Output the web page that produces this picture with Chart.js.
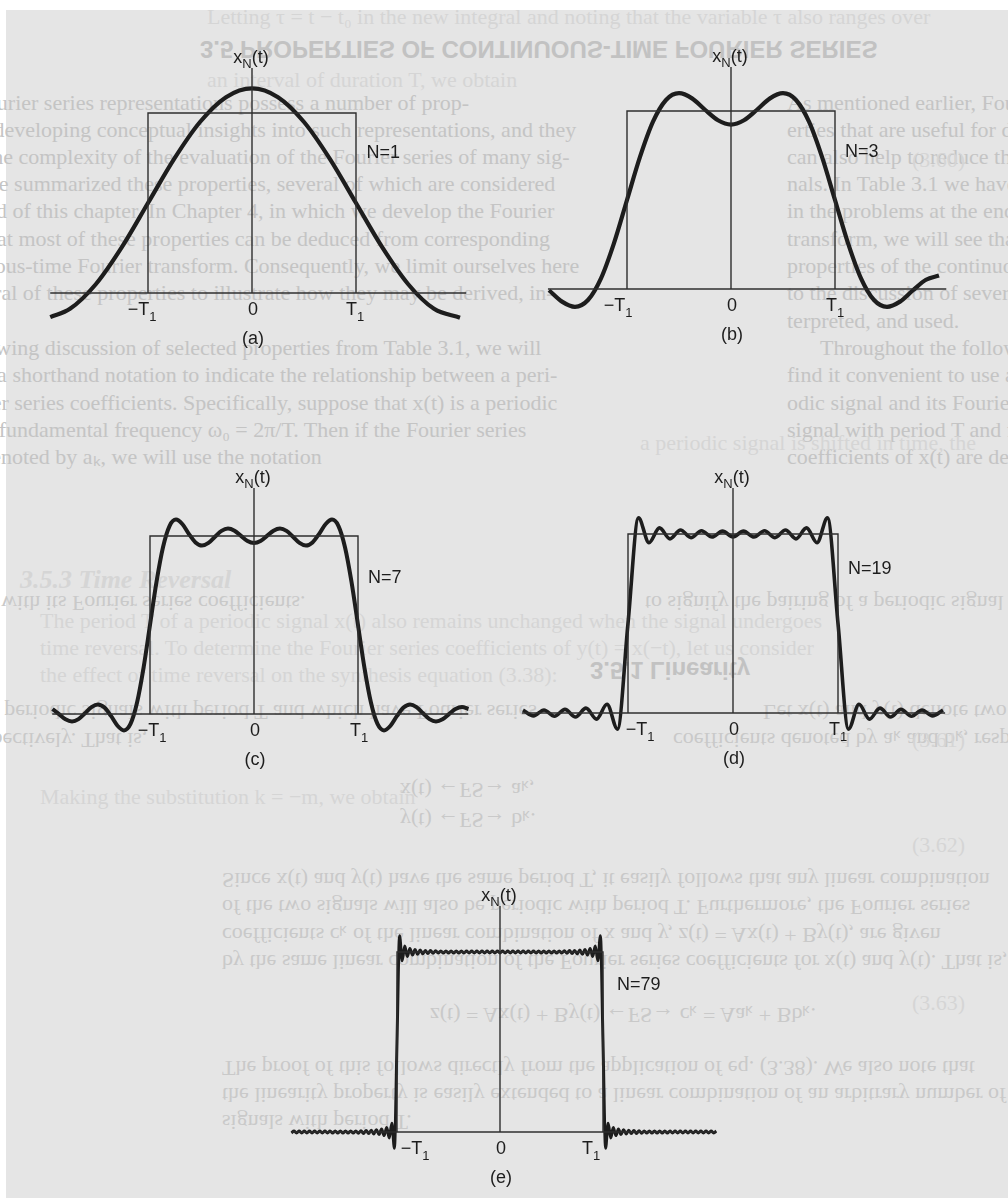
<!DOCTYPE html>
<html>
<head>
<meta charset="utf-8">
<script src="https://cdn.jsdelivr.net/npm/chart.js@4.4.1/dist/chart.umd.min.js"></script>
<style>
  html, body { margin: 0; padding: 0; background: #fff; }
  #page { position: relative; width: 1008px; height: 1198px; overflow: hidden; background: #fff; }
  #paper { position: absolute; left: 6px; top: 10px; right: 0; bottom: 0; background: #e5e5e5; }
  .bt { position: absolute; white-space: nowrap; font: 22px "Liberation Serif", serif; line-height: 24px; color: #c4c4c4; }
  .flip { transform: scaleY(-1); color: #c9c9c9; }
  .lite { color: #d5d5d5; }
  .hd { font: bold 24px "Liberation Sans", sans-serif; color: #c2c2c2; }
  .hi { font: italic bold 26px "Liberation Serif", serif; }
  canvas { position: absolute; }
</style>
</head>
<body>
<div id="page"><div id="paper"></div></div>
<script>
// ---- data (t in units of T1, x in units of the square wave height) ----

// (a) N = 1
const aT = [-1.94, -1.75, -1.5, -1.25, -1, -0.75, -0.5, -0.25, 0, 0.25, 0.5, 0.75, 1, 1.25, 1.5, 1.75, 2];
const aX = [-0.134, -0.088, 0.05, 0.256, 0.5, 0.744, 0.95, 1.088, 1.137, 1.088, 0.95, 0.744, 0.5, 0.256, 0.05, -0.088, -0.137];

// (b) N = 3, sampled from t = -1.75 every 0.125
const bStart = -1.75, bStep = 0.125;
const bX = [-0.007, -0.071, -0.1, -0.062, 0.06, 0.258, 0.5, 0.742, 0.94, 1.062, 1.1, 1.071, 1.007, 0.948,
  0.924,
  0.948, 1.007, 1.071, 1.1, 1.062, 0.94, 0.742, 0.5, 0.258, 0.06, -0.062, -0.1, -0.071, -0.007, 0.052, 0.076];

// (c) N = 7, sampled from t = -1.9375 every 0.0625
const cStart = -1.9375, cStep = 0.0625;
const cX = [0.028, -0.001, -0.03, -0.042, -0.029, 0.004, 0.039, 0.054, 0.036, -0.011, -0.066, -0.092, -0.056, 0.063,
  0.258, 0.5, 0.742, 0.937, 1.056, 1.092, 1.066, 1.011, 0.964, 0.946, 0.961, 0.996, 1.029, 1.042, 1.03, 1.001, 0.972,
  0.961,
  0.972, 1.001, 1.03, 1.042, 1.029, 0.996, 0.961, 0.946, 0.964, 1.011, 1.066, 1.092, 1.056, 0.937, 0.742, 0.5,
  0.258, 0.063, -0.056, -0.092, -0.066, -0.011, 0.036, 0.054, 0.039, 0.004, -0.029, -0.042, -0.03, -0.001, 0.028, 0.039, 0.028];

// (d) N = 19, ripple peaks every 0.1 from t = -2
const dStart = -2, dStep = 0.1;
const dX = [0.016, -0.016, 0.017, -0.018, 0.02, -0.022, 0.027, -0.034, 0.049, -0.09, 0.5,
  1.09, 0.951, 1.034, 0.973, 1.022, 0.98, 1.018, 0.983, 1.016,
  0.984,
  1.016, 0.983, 1.018, 0.98, 1.022, 0.973, 1.034, 0.951, 1.09,
  0.5, -0.09, 0.049, -0.034, 0.027, -0.022, 0.02, -0.018, 0.017, -0.016, 0.016];

// (e) N = 79, ripple peaks every 0.025 from t = -2.025
const eStart = -2.025, eStep = 0.025;
const eX = [
  -0.005, 0.005, -0.005, 0.005, -0.005, 0.005, -0.005, 0.005, -0.005, 0.005, -0.005, 0.005, -0.005, 0.005, -0.005, 0.005,
  -0.006, 0.006, -0.006, 0.006, -0.006, 0.006, -0.006, 0.006, -0.006, 0.006,
  -0.007, 0.007, -0.008, 0.008, -0.009, 0.01, -0.011, 0.013, -0.014, 0.017, -0.02, 0.025, -0.033, 0.049, -0.09,
  0.5,
  1.09, 0.951, 1.033, 0.975, 1.02, 0.983, 1.014, 0.987, 1.011, 0.99, 1.009, 0.992, 1.008, 0.993, 1.007, 0.994,
  1.006, 0.994, 1.006, 0.994, 1.006, 0.994, 1.006, 0.994, 1.006,
  0.995, 1.005, 0.995, 1.005, 0.995, 1.005, 0.995, 1.005, 0.995, 1.005, 0.995, 1.005, 0.995, 1.005, 0.995,
  1.005, 0.995, 1.005, 0.995, 1.005, 0.995, 1.005, 0.995, 1.005, 0.995, 1.005, 0.995, 1.005, 0.995,
  1.006, 0.994, 1.006, 0.994, 1.006, 0.994, 1.006, 0.994, 1.006, 0.994, 1.007, 0.993, 1.008, 0.992, 1.009, 0.99,
  1.011, 0.987, 1.014, 0.983, 1.02, 0.975, 1.033, 0.951, 1.09,
  0.5,
  -0.09, 0.049, -0.033, 0.025, -0.02, 0.017, -0.014, 0.013, -0.011, 0.01, -0.009, 0.008, -0.008, 0.007, -0.007,
  0.006, -0.006, 0.006, -0.006, 0.006, -0.006, 0.006, -0.006, 0.006, -0.006,
  0.005, -0.005, 0.005, -0.005, 0.005, -0.005, 0.005, -0.005, 0.005, -0.005, 0.005, -0.005, 0.005, -0.005, 0.005, -0.005, 0.005, -0.005, 0.005];

// the ideal square wave drawn behind each approximation
const squareT = [-1, -1, 1, 1];
const squareX = [0, 1, 1, 0];

const tickNames = ['−T', '0', 'T'];
const captions = ['(a)', '(b)', '(c)', '(d)', '(e)'];
const orders = [1, 3, 7, 19, 79];

// ---- page furniture: text showing through the scanned paper ----
const shine = [
  [787, 103, 'As mentioned earlier, Fourier series representations possess a number of prop-', ''],
  [787, 130, 'erties that are useful for developing conceptual insights into such representations, and they', ''],
  [787, 157, 'can also help to reduce the complexity of the evaluation of the Fourier series of many sig-', ''],
  [787, 184, 'nals. In Table 3.1 we have summarized these properties, several of which are considered', ''],
  [787, 211, 'in the problems at the end of this chapter. In Chapter 4, in which we develop the Fourier', ''],
  [787, 239, 'transform, we will see that most of these properties can be deduced from corresponding', ''],
  [787, 266, 'properties of the continuous-time Fourier transform. Consequently, we limit ourselves here', ''],
  [787, 293, 'to the discussion of several of these properties to illustrate how they may be derived, in-', ''],
  [787, 321, 'terpreted, and used.', ''],
  [820, 348, 'Throughout the following discussion of selected properties from Table 3.1, we will', ''],
  [787, 375, 'find it convenient to use a shorthand notation to indicate the relationship between a peri-', ''],
  [787, 403, 'odic signal and its Fourier series coefficients. Specifically, suppose that x(t) is a periodic', ''],
  [787, 430, 'signal with period T and fundamental frequency ω₀ = 2π/T. Then if the Fourier series', ''],
  [787, 457, 'coefficients of x(t) are denoted by aₖ, we will use the notation', ''],
  [645, 603, 'to signify the pairing of a periodic signal with its Fourier series coefficients.', 'flip'],
  [763, 712, 'Let x(t) and y(t) denote two periodic signals with period T and which have Fourier series', 'flip'],
  [673, 740, 'coefficients denoted by aₖ and bₖ, respectively. That is,', 'flip']
];
const shineOnce = [
  [200, 47, '3.5 PROPERTIES OF CONTINUOUS-TIME FOURIER SERIES', 'flip hd'],
  [590, 668, '3.5.1 Linearity', 'flip hd'],
  [400, 790, 'x(t) ←FS→ aₖ,', 'flip'],
  [400, 820, 'y(t) ←FS→ bₖ.', 'flip'],
  [222, 880, 'Since x(t) and y(t) have the same period T, it easily follows that any linear combination', 'flip'],
  [222, 907, 'of the two signals will also be periodic with period T. Furthermore, the Fourier series', 'flip'],
  [222, 935, 'coefficients cₖ of the linear combination of x and y, z(t) = Ax(t) + By(t), are given', 'flip'],
  [222, 962, 'by the same linear combination of the Fourier series coefficients for x(t) and y(t). That is,', 'flip'],
  [430, 1015, 'z(t) = Ax(t) + By(t) ←FS→ cₖ = Aaₖ + Bbₖ.', 'flip'],
  [222, 1068, 'The proof of this follows directly from the application of eq. (3.38). We also note that', 'flip'],
  [222, 1095, 'the linearity property is easily extended to a linear combination of an arbitrary number of', 'flip'],
  [222, 1122, 'signals with period T.', 'flip'],
  [207, 17, 'Letting τ = t − t₀ in the new integral and noting that the variable τ also ranges over', 'lite'],
  [207, 80, 'an interval of duration T, we obtain', 'lite'],
  [912, 160, '(3.60)', 'lite'],
  [640, 443, 'a periodic signal is shifted in time, the', 'lite'],
  [20, 577, '3.5.3  Time Reversal', 'lite hi'],
  [40, 621, 'The period T of a periodic signal x(t) also remains unchanged when the signal undergoes', 'lite'],
  [40, 648, 'time reversal. To determine the Fourier series coefficients of y(t) = x(−t), let us consider', 'lite'],
  [40, 675, 'the effect of time reversal on the synthesis equation (3.38):', 'lite'],
  [912, 740, '(3.61)', 'lite'],
  [40, 797, 'Making the substitution k = −m, we obtain', 'lite'],
  [912, 845, '(3.62)', 'lite'],
  [912, 1003, '(3.63)', 'lite']
];

const page = document.getElementById('page');
function addText(x, y, text, cls) {
  const d = document.createElement('div');
  d.className = 'bt ' + cls;
  d.style.left = x + 'px';
  d.style.top = (y - 12) + 'px';
  d.textContent = text;
  page.appendChild(d);
}
// the back page is shifted, so its lines wrap round the right edge
shine.forEach(([x, y, text, cls]) => { addText(x, y, text, cls); addText(x - 1008, y, text, cls); });
shineOnce.forEach(([x, y, text, cls]) => addText(x, y, text, cls));

// ---- panels ----
const SANS = '"Liberation Sans", Arial, Helvetica, sans-serif';
const INK = '#1d1d1d';
const RULE = '#2e2e2e';

const panels = [
  { pts: aT.map((t, i) => ({ x: t, y: aX[i] })), box: [20, 28, 470, 340], origin: [252, 293], t1px: 104, unit: 180,
    axisTop: 1.25, base: [-1.94, 2.06], nAt: [1.1, 0.79], negOff: -6, posOff: -1, lw: 4.2 },
  { pts: bX.map((v, i) => ({ x: bStart + i * bStep, y: v })), box: [520, 28, 480, 332], origin: [731, 289], t1px: 104, unit: 178,
    axisTop: 1.247, base: [-1.76, 2.07], nAt: [1.096, 0.78], negOff: -9, posOff: 0, lw: 4.2 },
  { pts: cX.map((v, i) => ({ x: cStart + i * cStep, y: v })), box: [20, 455, 480, 320], origin: [254, 714], t1px: 104, unit: 178,
    axisTop: 1.27, base: [-1.94, 2.06], nAt: [1.096, 0.775], negOff: 2, posOff: 1, lw: 4 },
  { pts: dX.map((v, i) => ({ x: dStart + i * dStep, y: v })), box: [505, 455, 495, 320], origin: [733, 713], t1px: 105, unit: 179,
    axisTop: 1.257, base: [-2.01, 2.02], nAt: [1.095, 0.816], negOff: 12, posOff: 0, lw: 3.6 },
  { pts: eX.map((v, i) => ({ x: eStart + i * eStep, y: v })), box: [260, 878, 480, 320], origin: [500, 1132], t1px: 103, unit: 180,
    axisTop: 1.256, base: [-2.02, 2.09], nAt: [1.136, 0.828], negOff: 18, posOff: -12, lw: 3 }
];

function runs(ctx, parts, cx, y, align) {
  let w = 0;
  const widths = parts.map(p => { ctx.font = p[1] + 'px ' + SANS; const m = ctx.measureText(p[0]).width; w += m; return m; });
  let x = align === 'left' ? cx : cx - w / 2;
  parts.forEach((p, i) => { ctx.font = p[1] + 'px ' + SANS; ctx.fillText(p[0], x, y + (p[2] || 0)); x += widths[i]; });
}

function labelPlugin(p, k) {
  return {
    id: 'panelLabels' + k,
    afterDatasetsDraw(chart) {
      const ctx = chart.ctx, xs = chart.scales.x, ys = chart.scales.y;
      const x0 = xs.getPixelForValue(0), y0 = ys.getPixelForValue(0);
      ctx.save();
      ctx.fillStyle = INK;
      ctx.textAlign = 'left';
      ctx.textBaseline = 'alphabetic';
      runs(ctx, [['x', 18], ['N', 13, 5], ['(t)', 18]], x0 - 1, ys.getPixelForValue(p.axisTop) - 5, 'center');
      runs(ctx, [[tickNames[0], 18], ['1', 13, 6]], xs.getPixelForValue(-1) + p.negOff, y0 + 22, 'center');
      runs(ctx, [[tickNames[1], 18]], x0 + 1, y0 + 22, 'center');
      runs(ctx, [[tickNames[2], 18], ['1', 13, 6]], xs.getPixelForValue(1) + p.posOff, y0 + 22, 'center');
      runs(ctx, [[captions[k], 18]], x0 + 1, y0 + 51, 'center');
      runs(ctx, [['N=' + orders[k], 18]], xs.getPixelForValue(p.nAt[0]), ys.getPixelForValue(p.nAt[1]) + 7, 'left');
      ctx.restore();
    }
  };
}

panels.forEach((p, k) => {
  const [left, top, w, h] = p.box;
  const canvas = document.createElement('canvas');
  canvas.width = w;
  canvas.height = h;
  canvas.style.left = left + 'px';
  canvas.style.top = top + 'px';
  page.appendChild(canvas);

  const thin = { borderColor: RULE, borderWidth: 1.4, tension: 0, pointRadius: 0 };
  new Chart(canvas.getContext('2d'), {
    type: 'line',
    data: {
      datasets: [
        { ...thin, data: p.base.map(t => ({ x: t, y: 0 })) },
        { ...thin, data: [{ x: 0, y: 0 }, { x: 0, y: p.axisTop }] },
        { ...thin, data: squareT.map((t, i) => ({ x: t, y: squareX[i] })) },
        { data: p.pts, borderColor: INK, borderWidth: p.lw, pointRadius: 0,
          cubicInterpolationMode: 'monotone', borderJoinStyle: 'round', borderCapStyle: 'butt' }
      ]
    },
    options: {
      responsive: false,
      animation: false,
      devicePixelRatio: 1,
      events: [],
      layout: { padding: 0 },
      plugins: { legend: { display: false }, tooltip: { enabled: false } },
      scales: {
        x: { type: 'linear', display: false,
             min: (left - p.origin[0]) / p.t1px, max: (left + w - p.origin[0]) / p.t1px },
        y: { type: 'linear', display: false,
             min: (p.origin[1] - (top + h)) / p.unit, max: (p.origin[1] - top) / p.unit }
      }
    },
    plugins: [labelPlugin(p, k)]
  });
});
</script>
</body>
</html>
